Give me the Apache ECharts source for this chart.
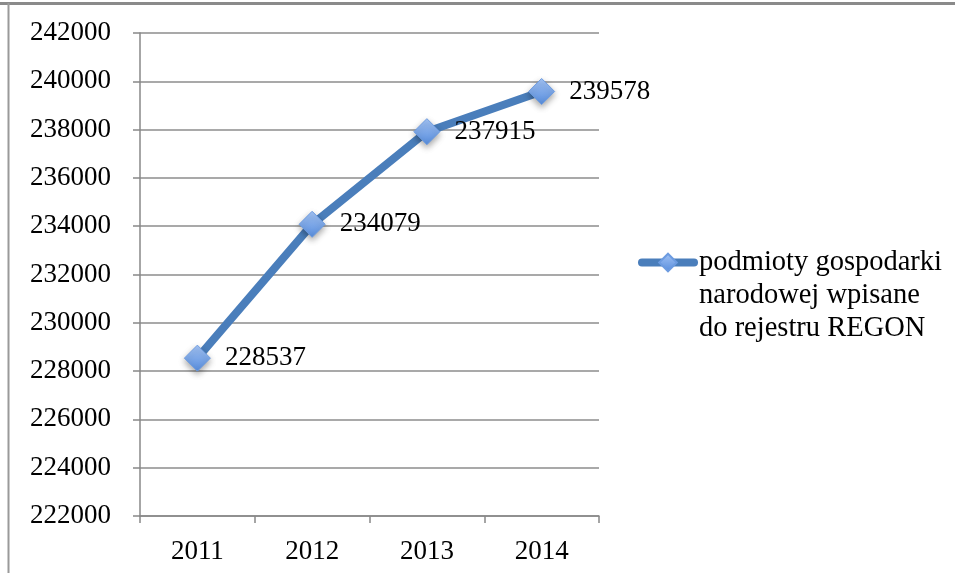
<!DOCTYPE html>
<html>
<head>
<meta charset="utf-8">
<script src="https://cdn.jsdelivr.net/npm/echarts@6/dist/echarts.min.js"></script>
<style>html,body{margin:0;padding:0;background:#fff}#c{width:955px;height:573px}</style>
</head>
<body>
<div id="c"></div>
<script>
var categories = ['2011', '2012', '2013', '2014'];
var values = [228537, 234079, 237915, 239578];
var seriesName = 'podmioty gospodarki\nnarodowej wpisane\ndo rejestru REGON';
var yMin = 222000, yMax = 242000, yStep = 2000;

var FONT = '"Liberation Serif", "DejaVu Serif", serif';
var FS = 27;
var chart = echarts.init(document.getElementById('c'));
chart.setOption({
  backgroundColor: '#fff',
  animation: false,
  graphic: [
    { type: 'line', shape: { x1: 0, y1: 3.5, x2: 955, y2: 3.5 }, style: { stroke: '#8a8a8a', lineWidth: 3 } },
    { type: 'line', shape: { x1: 8.5, y1: 3, x2: 8.5, y2: 573 }, style: { stroke: '#9a9a9a', lineWidth: 2 } }
  ],
  grid: { left: 140, right: 356, top: 33, bottom: 57, containLabel: false },
  xAxis: {
    type: 'category',
    data: categories,
    boundaryGap: true,
    axisLine: { lineStyle: { color: '#888', width: 1.5 } },
    axisTick: { show: true, length: 7, lineStyle: { color: '#888', width: 1.5 } },
    axisLabel: { color: '#000', fontFamily: FONT, fontSize: FS, margin: 22 }
  },
  yAxis: {
    type: 'value',
    min: yMin, max: yMax, interval: yStep,
    axisLine: { show: true, lineStyle: { color: '#888', width: 1.5 } },
    axisTick: { show: true, length: 7, lineStyle: { color: '#888', width: 1.5 } },
    splitLine: { lineStyle: { color: '#8c8c8c', width: 1.5 } },
    axisLabel: { color: '#000', fontFamily: FONT, fontSize: FS, margin: 29, formatter: function (v) { return String(v); } }
  },
  legend: {
    orient: 'vertical',
    left: 638,
    top: 180,
    padding: 0,
    itemWidth: 52,
    itemHeight: 22,
    itemGap: 3,
    data: [seriesName],
    formatter: function (n) { return '\n\n' + n; },
    lineStyle: { width: 8, cap: 'round' },
    textStyle: { color: '#000', fontFamily: FONT, fontSize: 28.5, lineHeight: 33 }
  },
  series: [{
    name: seriesName,
    type: 'line',
    data: values,
    symbol: 'diamond',
    symbolSize: 26,
    lineStyle: { color: '#4a7ebb', width: 8, cap: 'round' },
    itemStyle: {
      color: new echarts.graphic.LinearGradient(0, 0, 0, 1, [
        { offset: 0, color: '#a4c4f5' },
        { offset: 1, color: '#568cdc' }
      ]),
      borderColor: '#6c9be0',
      borderWidth: 1,
      shadowBlur: 6,
      shadowColor: 'rgba(0,0,0,0.35)',
      shadowOffsetY: 3
    },
    label: {
      show: true,
      position: 'right',
      distance: 14,
      color: '#000',
      fontFamily: FONT,
      fontSize: FS
    }
  }]
});
</script>
</body>
</html>
